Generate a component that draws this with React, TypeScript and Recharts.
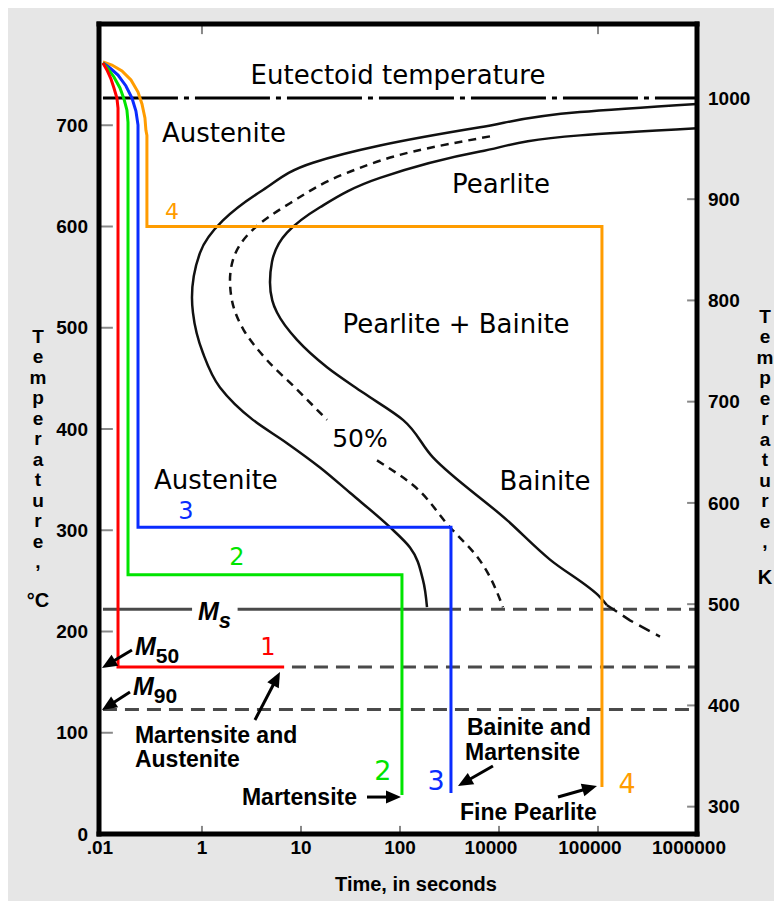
import React from 'react';
import {
  ComposedChart,
  Line,
  XAxis,
  YAxis,
  CartesianGrid,
  ReferenceLine,
  ReferenceDot,
} from 'recharts';

// time axis: evenly spaced steps, labelled like the original diagram
const timeTicks = [0, 1, 2, 3, 4, 5, 6];
const timeLabels = ['.01', '1', '10', '100', '10000', '100000', '1000000'];
const celsiusTicks = [0, 100, 200, 300, 400, 500, 600, 700];
const kelvinTicks = [300, 400, 500, 600, 700, 800, 900, 1000];

const eutectoidTemp = 727;
const msTemp = 222;
const m50Temp = 165;
const m90Temp = 123;

type P = [number, number];
const pts = (list: P[]) => list.map(([u, T]) => ({ u, T }));

// transformation start (outer C curve)
const startCurve: P[] = [
  [6.0, 721], [4.818, 713], [3.808, 698], [2.798, 680], [2.121, 663], [1.616, 636],
  [1.212, 606], [0.98, 574], [0.899, 530], [0.909, 515], [1.01, 475], [1.182, 441],
  [1.515, 409], [1.859, 386], [2.192, 362], [2.495, 337], [2.899, 303], [3.101, 283],
  [3.232, 251], [3.273, 224],
];

// 50% transformed (dashed), split where the label sits
const fiftyUpper: P[] = [
  [3.909, 689], [3.131, 674], [2.465, 653], [1.889, 623], [1.515, 597], [1.313, 567],
  [1.283, 547], [1.303, 527], [1.42, 498], [1.657, 468], [1.96, 439], [2.263, 409],
];
const fiftyLower: P[] = [
  [2.768, 369], [3.101, 347], [3.505, 303], [3.778, 274], [4.04, 224],
];

// transformation end (inner C curve)
const endCurve: P[] = [
  [6.0, 697], [4.818, 690], [3.808, 674], [2.798, 648], [2.192, 619], [1.859, 594],
  [1.707, 565], [1.687, 545], [1.71, 527], [1.758, 515], [1.96, 488], [2.263, 461],
  [2.626, 436], [3.03, 409], [3.333, 372], [4.081, 310], [4.515, 271], [5.02, 234],
  [5.091, 226],
];
const bainiteTail: P[] = [[5.091, 226], [5.323, 211], [5.626, 195]];

const eutectoidLine: P[] = [[0, eutectoidTemp], [6, eutectoidTemp]];
const msSolidA: P[] = [[0, msTemp], [0.9, msTemp]];
const msSolidB: P[] = [[1.36, msTemp], [3.475, msTemp]];
const msDashed: P[] = [[3.475, msTemp], [6, msTemp]];
const m50Line: P[] = [[1.909, m50Temp], [6, m50Temp]];
const m90Line: P[] = [[0, m90Temp], [6, m90Temp]];

// cooling paths 1-4
const path1: P[] = [
  [0, 761.5], [0.04, 754.6], [0.081, 745.7], [0.111, 736.8], [0.141, 726.9], [0.152, 717],
  [0.152, 165], [1.83, 165],
];
const path2: P[] = [
  [0, 761.5], [0.051, 755.6], [0.111, 747.7], [0.172, 736.8], [0.212, 726], [0.242, 715],
  [0.253, 703], [0.253, 256], [3.02, 256], [3.02, 38.5],
];
const path3: P[] = [
  [0, 761.5], [0.071, 756.5], [0.152, 749.6], [0.232, 738.8], [0.293, 726.9], [0.333, 714.1],
  [0.354, 700.2], [0.354, 303], [3.515, 303], [3.515, 40.5],
];
const path4: P[] = [
  [0, 762.5], [0.091, 759.5], [0.192, 753.6], [0.283, 744.7], [0.354, 732.8], [0.394, 721],
  [0.424, 707.2], [0.434, 695], [0.444, 690], [0.444, 600], [5.04, 600], [5.04, 46.4],
];

const RED = '#ff0000';
const GREEN = '#00e400';
const BLUE = '#0a2cff';
const ORANGE = '#ff9c00';
const GRAY = '#4a4a4a';

const regionFont = { fontFamily: '"DejaVu Sans", Verdana, sans-serif', fontSize: 26, fill: '#000' };
const noteFont = { fontFamily: '"Liberation Sans", Arial, sans-serif', fontSize: 23, fontWeight: 700, fill: '#000' };
const axisFont = { fontFamily: '"Liberation Sans", Arial, sans-serif', fontSize: 19, fontWeight: 700, fill: '#000' };

const regionLabels = [
  { text: 'Eutectoid temperature', u: 2.98, T: 740.7 },
  { text: 'Austenite', u: 1.222, T: 683.5 },
  { text: 'Pearlite', u: 4.02, T: 633 },
  { text: 'Pearlite + Bainite', u: 3.566, T: 494.8 },
  { text: 'Austenite', u: 1.141, T: 340.7 },
  { text: 'Bainite', u: 4.465, T: 339.8 },
];

const noteLabels = [
  { text: 'Martensite and', u: 0.323, T: 89.9 },
  { text: 'Austenite', u: 0.323, T: 66.2 },
  { text: 'Martensite', u: 1.404, T: 28.6 },
  { text: 'Bainite and', u: 3.677, T: 97.8 },
  { text: 'Martensite', u: 3.657, T: 73.1 },
  { text: 'Fine Pearlite', u: 3.606, T: 13.8 },
];

const pathLabels = [
  { text: '1', u: 1.667, T: 176.8, color: RED, size: 24 },
  { text: '2', u: 1.354, T: 265.7, color: GREEN, size: 24 },
  { text: '2', u: 2.828, T: 53.3, color: GREEN, size: 27 },
  { text: '3', u: 0.838, T: 311.1, color: BLUE, size: 24 },
  { text: '3', u: 3.364, T: 43.5, color: BLUE, size: 27 },
  { text: '4', u: 0.697, T: 607.9, color: ORANGE, size: 22 },
  { text: '4', u: 5.293, T: 40.5, color: ORANGE, size: 27 },
];

const mLabels = [
  { sub: 's', u: 0.96, T: 211.4 },
  { sub: '50', u: 0.323, T: 176.8 },
  { sub: '90', u: 0.303, T: 137.3 },
];

const arrows: { from: P; to: P }[] = [
  { from: [0.293, 181.7], to: [-0.01, 164] },
  { from: [0.273, 140.2], to: [-0.01, 122.5] },
  { from: [1.535, 112.6], to: [1.788, 160] },
  { from: [2.667, 36.5], to: [3.01, 36.5] },
  { from: [3.939, 67.2], to: [3.586, 47.4] },
  { from: [4.596, 36.5], to: [4.99, 47.4] },
];

const ArrowShape = (p: any) => {
  const { x1, y1, x2, y2 } = p;
  const dx = x2 - x1;
  const dy = y2 - y1;
  const len = Math.hypot(dx, dy) || 1;
  const ux = dx / len;
  const uy = dy / len;
  const hl = 15;
  const hw = 6.5;
  const bx = x2 - ux * hl;
  const by = y2 - uy * hl;
  return (
    <g>
      <line x1={x1} y1={y1} x2={bx + ux * 2} y2={by + uy * 2} stroke="#000" strokeWidth={3} />
      <polygon
        points={`${x2},${y2} ${bx - uy * hw},${by + ux * hw} ${bx + uy * hw},${by - ux * hw}`}
        fill="#000"
      />
    </g>
  );
};

const XTick = (props: any) => {
  const { x, y, payload } = props;
  const label = timeLabels[payload.value] ?? '';
  const shift = label.length > 4 ? -8 : label === '.01' ? -3 : 0;
  return (
    <text x={x + shift} y={y} dy="0.71em" textAnchor="middle" style={axisFont}>
      {label}
    </text>
  );
};

const axisLine = { stroke: '#000', strokeWidth: 5, strokeLinecap: 'square' as const };

const stackStyle: React.CSSProperties = {
  position: 'absolute',
  width: 24,
  textAlign: 'center',
  fontFamily: '"Liberation Sans", Arial, sans-serif',
  fontWeight: 700,
  fontSize: 19,
  lineHeight: '20.5px',
  color: '#000',
};

const line = (data: P[], stroke: string, width: number, dash?: string, type: any = 'linear', key?: string) => (
  <Line
    key={key}
    data={pts(data)}
    dataKey="T"
    type={type}
    stroke={stroke}
    strokeWidth={width}
    strokeDasharray={dash}
    dot={false}
    activeDot={false}
    isAnimationActive={false}
    legendType="none"
  />
);

export default function App() {
  return (
    <div
      style={{
        position: 'absolute',
        left: 8,
        top: 8,
        width: 766,
        height: 893,
        overflow: 'hidden',
        background: '#e6e6e6',
      }}
    >
      <ComposedChart width={766} height={893} margin={{ top: 0, right: 0, bottom: 0, left: 0 }}>
        <CartesianGrid fill="#ffffff" horizontal={false} vertical={false} />
        <XAxis
          dataKey="u"
          type="number"
          domain={[-0.04, 6]}
          allowDataOverflow
          ticks={timeTicks}
          interval={0}
          height={67}
          tickSize={0}
          tickMargin={7}
          tickLine={false}
          axisLine={axisLine}
          tick={<XTick />}
        />
        <XAxis
          xAxisId="top"
          orientation="top"
          type="number"
          domain={[-0.04, 6]}
          allowDataOverflow
          height={16}
          tick={false}
          tickLine={false}
          axisLine={axisLine}
        />
        <YAxis
          type="number"
          domain={[0, 800]}
          allowDataOverflow
          ticks={celsiusTicks}
          interval={0}
          width={91}
          tickSize={0}
          tickMargin={11}
          tickLine={false}
          axisLine={axisLine}
          tick={axisFont}
        />
        <YAxis
          yAxisId="k"
          orientation="right"
          type="number"
          domain={[273, 1073]}
          allowDataOverflow
          ticks={kelvinTicks}
          interval={0}
          width={77}
          tickSize={0}
          tickMargin={11}
          tickLine={false}
          axisLine={axisLine}
          tick={axisFont}
        />

        {/* inner tick marks */}
        {celsiusTicks.slice(1).map((t) => (
          <ReferenceLine key={`lt${t}`} segment={[{ x: -0.04, y: t }, { x: 0.1, y: t }]} stroke="#888" strokeWidth={2} ifOverflow="visible" />
        ))}
        {kelvinTicks.map((k) => (
          <ReferenceLine key={`rt${k}`} yAxisId="k" segment={[{ x: 5.9, y: k }, { x: 6, y: k }]} stroke="#888" strokeWidth={2} ifOverflow="visible" />
        ))}
        {timeTicks.slice(1, 6).map((u) => (
          <ReferenceLine key={`bt${u}`} segment={[{ x: u, y: 0 }, { x: u, y: 8 }]} stroke="#888" strokeWidth={2} ifOverflow="visible" />
        ))}
        {[1, 5].map((u) => (
          <ReferenceLine key={`tt${u}`} segment={[{ x: u, y: 800 }, { x: u, y: 790 }]} stroke="#888" strokeWidth={2} ifOverflow="visible" />
        ))}

        {line(eutectoidLine, '#000', 3, '75 6 5 6', 'linear', 'eut')}
        {line(msSolidA, GRAY, 3, undefined, 'linear', 'msa')}
        {line(msSolidB, GRAY, 3, undefined, 'linear', 'msb')}
        {line(msDashed, GRAY, 3, '14 8', 'linear', 'msd')}
        {line(m50Line, GRAY, 3, '14 8', 'linear', 'm50')}
        {line(m90Line, GRAY, 3, '14 8', 'linear', 'm90')}
        {line(startCurve, '#111', 2.5, undefined, 'monotoneY', 'start')}
        {line(fiftyUpper, '#111', 2.5, '8 6', 'monotoneY', 'f1')}
        {line(fiftyLower, '#111', 2.5, '8 6', 'monotoneY', 'f2')}
        {line(endCurve, '#111', 2.5, undefined, 'monotoneY', 'end')}
        {line(bainiteTail, '#111', 2.5, '12 7', 'linear', 'tail')}

        {line(path4, ORANGE, 3, undefined, 'linear', 'p4')}
        {line(path3, BLUE, 3, undefined, 'linear', 'p3')}
        {line(path2, GREEN, 3, undefined, 'linear', 'p2')}
        {line(path1, RED, 3, undefined, 'linear', 'p1')}

        {regionLabels.map((l, i) => (
          <ReferenceDot
            key={`rl${i}`}
            x={l.u}
            y={l.T}
            r={1}
            ifOverflow="visible"
            shape={(p: any) => (
              <text x={p.cx} y={p.cy} textAnchor="middle" style={regionFont}>{l.text}</text>
            )}
          />
        ))}
        <ReferenceDot
          x={2.596}
          y={382.2}
          r={1}
          ifOverflow="visible"
          shape={(p: any) => (
            <text x={p.cx} y={p.cy} textAnchor="middle" style={{ ...regionFont, fontSize: 25 }}>50%</text>
          )}
        />
        {noteLabels.map((l, i) => (
          <ReferenceDot
            key={`nl${i}`}
            x={l.u}
            y={l.T}
            r={1}
            ifOverflow="visible"
            shape={(p: any) => (
              <text x={p.cx} y={p.cy} textAnchor="start" style={noteFont}>{l.text}</text>
            )}
          />
        ))}
        {pathLabels.map((l, i) => (
          <ReferenceDot
            key={`pl${i}`}
            x={l.u}
            y={l.T}
            r={1}
            ifOverflow="visible"
            shape={(p: any) => (
              <text
                x={p.cx}
                y={p.cy}
                textAnchor="middle"
                style={{ fontFamily: '"DejaVu Sans", Verdana, sans-serif', fontSize: l.size, fill: l.color }}
              >
                {l.text}
              </text>
            )}
          />
        ))}
        {mLabels.map((l, i) => (
          <ReferenceDot
            key={`ml${i}`}
            x={l.u}
            y={l.T}
            r={1}
            ifOverflow="visible"
            shape={(p: any) => (
              <text x={p.cx} y={p.cy} textAnchor="start" style={{ fontFamily: '"Liberation Sans", Arial, sans-serif', fontWeight: 700, fill: '#000' }}>
                <tspan fontSize={25} fontStyle="italic">M</tspan>
                <tspan fontSize={l.sub === 's' ? 22 : 21} dy={8} fontStyle={l.sub === 's' ? 'italic' : 'normal'}>{l.sub}</tspan>
              </text>
            )}
          />
        ))}
        {arrows.map((a, i) => (
          <ReferenceLine
            key={`ar${i}`}
            segment={[{ x: a.from[0], y: a.from[1] }, { x: a.to[0], y: a.to[1] }]}
            ifOverflow="visible"
            shape={ArrowShape}
          />
        ))}
      </ComposedChart>

      <div style={{ ...stackStyle, left: 18, top: 318.75 }}>
        {'Temperature,'.split('').map((c, i) => (
          <div key={i}>{c}</div>
        ))}
      </div>
      <div style={{ ...stackStyle, left: 10, width: 40, top: 581, fontSize: 20, lineHeight: '22px' }}>°C</div>
      <div style={{ ...stackStyle, left: 745, top: 298.75 }}>
        {'Temperature,'.split('').map((c, i) => (
          <div key={i}>{c}</div>
        ))}
      </div>
      <div style={{ ...stackStyle, left: 745, top: 558, lineHeight: '22px', fontSize: 20 }}>K</div>
      <div
        style={{
          position: 'absolute',
          left: 258,
          top: 864,
          width: 300,
          textAlign: 'center',
          fontFamily: '"Liberation Sans", Arial, sans-serif',
          fontWeight: 700,
          fontSize: 20,
          lineHeight: '24px',
          color: '#000',
        }}
      >
        Time, in seconds
      </div>
    </div>
  );
}
